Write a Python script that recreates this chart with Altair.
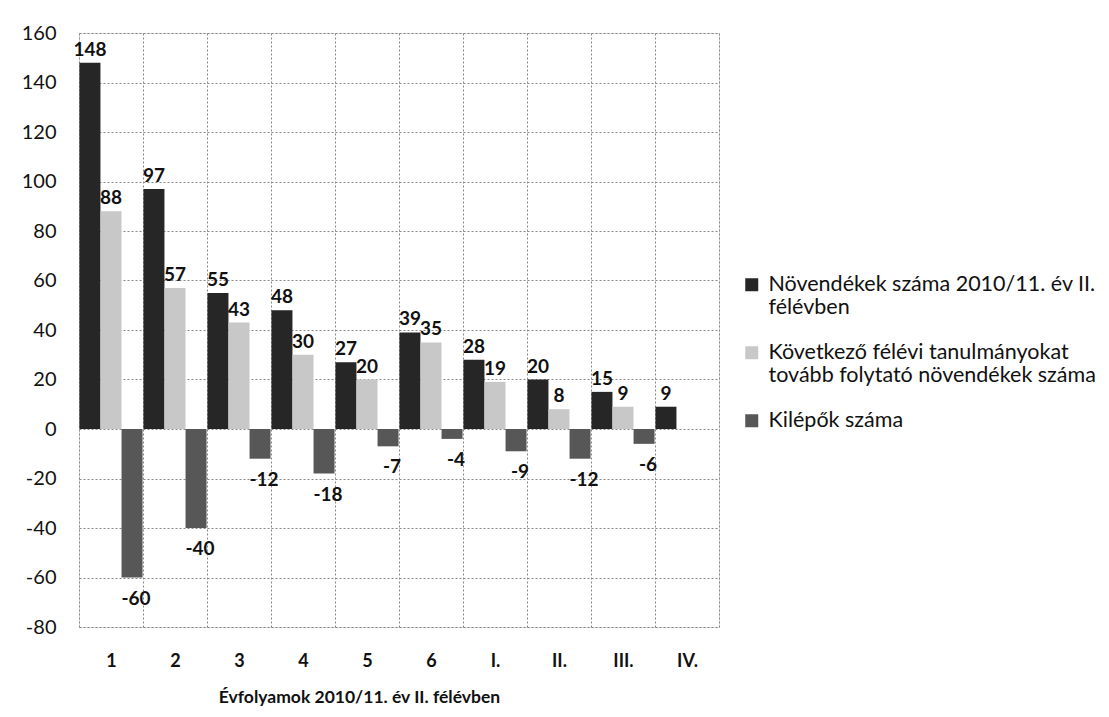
import altair as alt
import pandas as pd

categories = ["1", "2", "3", "4", "5", "6", "I.", "II.", "III.", "IV."]
s1_name = "Növendékek száma 2010/11. év II. félévben"
s2_name = "Következő félévi tanulmányokat tovább folytató növendékek száma"
s3_name = "Kilépők száma"
series_names = [s1_name, s2_name, s3_name]
novendekek = [148, 97, 55, 48, 27, 39, 28, 20, 15, 9]
kovetkezo = [88, 57, 43, 30, 20, 35, 19, 8, 9, None]
kilepok = [-60, -40, -12, -18, -7, -4, -9, -12, -6, None]
colors = ["#262626", "#c8c8c8", "#575757"]

rows = []
for series, vals in zip(series_names, [novendekek, kovetkezo, kilepok]):
    for c, v in zip(categories, vals):
        if v is not None:
            rows.append({"cat": c, "series": series, "value": v, "label": str(v)})
df = pd.DataFrame(rows)

FONT = "Lato"

x = alt.X("cat:N", sort=categories, title="Évfolyamok 2010/11. év II. félévben",
          scale=alt.Scale(paddingInner=0, paddingOuter=0),
          axis=alt.Axis(labelAngle=0, grid=True, tickBand="extent", ticks=False, domain=False,
                        labelFont=FONT, labelFontSize=18, labelFontWeight="bold", labelColor="#111",
                        labelPadding=25, titleFont=FONT, titleFontSize=17.5, titleFontWeight="bold",
                        titleColor="#111", titlePadding=18, titleX=280,
                        gridColor="#888", gridDash=[2, 2], gridWidth=1))
xoff = alt.XOffset("series:N", sort=series_names,
                   scale=alt.Scale(paddingInner=0, paddingOuter=0.02))
y = alt.Y("value:Q", title=None,
          scale=alt.Scale(domain=[-80, 160], nice=False),
          axis=alt.Axis(values=list(range(-80, 161, 20)), ticks=False, domain=False,
                        labelExpr="'' + datum.value",
                        labelFont=FONT, labelFontSize=20, labelColor="#111", labelPadding=23,
                        gridColor="#888", gridDash=[2, 2], gridWidth=1))

color = alt.Color("series:N", sort=series_names,
                  scale=alt.Scale(domain=series_names, range=colors),
                  legend=alt.Legend(title=None, orient="none", legendX=662, legendY=241,
                                    symbolType="square", symbolSize=169, symbolStrokeWidth=0,
                                    labelFont=FONT, labelFontSize=21.5, labelColor="#111",
                                    labelLimit=400, rowPadding=22, symbolOffset=0, labelOffset=6,
                                    labelExpr=("datum.label == '" + s1_name + "' ? ['Növendékek száma 2010/11. év II.', 'félévben'] : "
                                               "datum.label == '" + s2_name + "' ? ['Következő félévi  tanulmányokat', 'tovább folytató növendékek száma'] : datum.label")))

bars = alt.Chart(df).mark_bar(size=21).encode(x=x, xOffset=xoff, y=y, color=color)

pos = alt.Chart(df).transform_filter("datum.value >= 0").mark_text(
    baseline="bottom", dy=-3, font=FONT, fontSize=19, fontWeight="bold", color="#111"
).encode(x=x, xOffset=xoff, y=y, text="label:N")

neg = alt.Chart(df).transform_filter("datum.value < 0").mark_text(
    baseline="top", dy=12, dx=4, font=FONT, fontSize=19, fontWeight="bold", color="#111"
).encode(x=x, xOffset=xoff, y=y, text="label:N")

chart = alt.layer(bars, pos, neg).properties(
    width=640, height=594,
    padding={"top": 15, "left": 13, "right": 5, "bottom": 5},
).configure_view(stroke=None).configure(background="white")

chart.save("out.html", embed_options={"renderer": "svg", "actions": False})
